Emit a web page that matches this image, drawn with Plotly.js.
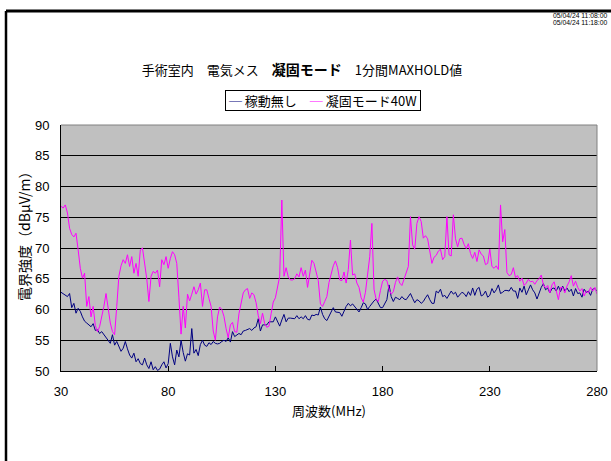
<!DOCTYPE html>
<html>
<head>
<meta charset="utf-8">
<script src="https://cdn.plot.ly/plotly-3.0.1.min.js"></script>
<style>
  html, body { margin: 0; padding: 0; background: #ffffff; }
  #chart { width: 611px; height: 461px; }
</style>
</head>
<body>
<div id="chart"></div>
<script>
// Sweep grid: 30 MHz to 280 MHz, one reading per MHz
const freqStartMHz = 30;
const freqStepMHz = 1;

// Background level, generator idle (dBμV/m)
const idleLevel = [
  62.8, 62.6, 62.3, 62.1, 62.6, 60.3, 61.0, 59.4, 60.2, 59.7,
  58.8, 58.1, 57.8, 57.5, 57.2, 57.7, 56.6, 56.7, 56.1, 56.4,
  55.9, 55.6, 55.0, 54.5, 55.9, 54.2, 54.8, 53.9, 53.2, 53.7,
  54.8, 53.6, 52.6, 52.1, 52.9, 51.5, 52.0, 51.2, 51.0, 52.1,
  51.0, 50.4, 51.5, 50.2, 50.7, 50.1, 50.3, 51.0, 51.5, 50.5,
  51.2, 54.5, 52.3, 51.0, 53.4, 52.3, 55.0, 53.0, 51.6, 52.8,
  52.6, 56.9, 52.9, 53.5, 52.5, 54.3, 55.0, 54.2, 54.0, 54.6,
  54.3, 54.8, 54.5, 54.4, 54.5, 54.8, 55.0, 54.8, 55.4, 54.7,
  56.4, 55.6, 55.9, 56.1, 55.9, 56.5, 56.6, 56.7, 56.9, 56.6,
  57.0, 57.2, 58.5, 56.5, 57.5, 57.5, 57.5, 58.0, 58.0, 58.0,
  58.8, 58.1, 57.3, 58.3, 59.2, 58.0, 58.6, 58.6, 58.5, 58.5,
  59.0, 58.5, 58.8, 58.5, 59.0, 58.4, 58.3, 59.1, 59.0, 59.2,
  59.1, 60.4, 59.2, 58.5, 58.2, 59.0, 59.8, 60.3, 59.6, 59.5,
  59.5, 58.9, 59.8, 60.5, 61.0, 60.6, 60.9, 60.4, 60.1, 59.6,
  60.3, 61.1, 60.9, 60.0, 60.5, 61.0, 61.4, 61.7, 61.1, 60.3,
  60.3, 61.1, 61.6, 64.0, 62.1, 61.3, 62.0, 61.8, 61.6, 62.1,
  61.7, 61.6, 62.1, 62.6, 61.8, 61.1, 61.6, 61.4, 61.0, 61.3,
  61.9, 62.4, 61.6, 61.0, 61.0, 63.0, 62.7, 63.3, 62.1, 62.3,
  61.8, 62.5, 63.0, 62.5, 62.8, 62.0, 62.4, 62.8, 62.6, 62.1,
  62.9, 62.3, 63.5, 62.3, 63.3, 63.6, 62.2, 62.4, 63.0, 62.0,
  62.3, 63.4, 62.7, 63.2, 64.0, 62.6, 62.8, 63.1, 63.1, 63.0,
  63.6, 63.0, 63.0, 61.8, 63.5, 62.8, 63.8, 62.4, 63.2, 64.0,
  63.2, 62.7, 61.7, 62.8, 63.6, 64.2, 63.2, 63.5, 62.7, 63.4,
  63.5, 63.0, 63.8, 62.9, 63.8, 63.0, 63.5, 62.9, 63.3, 62.2,
  63.4, 62.6, 62.7, 62.0, 63.3, 62.8, 63.0, 62.3, 63.3, 63.4,
  63.0
];

// Coagulation mode, 40 W output (dBμV/m)
const coag40W = [
  76.8, 76.5, 77.0, 75.7, 73.2, 72.2, 71.8, 72.4, 69.7, 66.7,
  65.1, 65.9, 60.5, 62.1, 58.8, 60.5, 57.4, 56.4, 57.2, 58.8,
  60.5, 62.6, 59.9, 57.8, 56.4, 55.9, 60.5, 65.4, 67.1, 68.1,
  67.5, 68.9, 67.0, 68.6, 65.9, 67.5, 65.4, 69.7, 70.0, 67.8,
  65.0, 61.3, 65.4, 66.2, 65.9, 66.4, 63.7, 68.1, 67.3, 68.6,
  66.7, 68.3, 69.4, 68.9, 67.5, 62.0, 56.0, 60.5, 57.0, 62.5,
  61.4, 62.5, 63.7, 62.5, 63.2, 64.3, 60.5, 63.2, 63.2, 61.8,
  60.5, 56.5, 55.0, 58.8, 60.4, 60.0, 58.9, 56.9, 55.4, 57.5,
  57.9, 56.4, 56.3, 59.3, 61.1, 62.7, 63.2, 63.4, 61.8, 62.7,
  62.4, 61.1, 59.0, 57.7, 59.4, 57.7, 57.1, 57.3, 59.3, 61.2,
  61.9, 63.9, 65.4, 77.8, 65.4, 66.8, 65.3, 64.8, 64.8, 65.0,
  65.8, 65.3, 66.8, 65.4, 66.4, 63.6, 66.2, 68.0, 67.5, 66.2,
  64.7, 60.9, 60.5, 61.3, 62.1, 64.4, 65.8, 67.1, 67.9, 66.8,
  64.8, 64.7, 66.1, 64.3, 66.5, 71.3, 65.6, 65.8, 64.3, 63.6,
  61.9, 61.2, 62.8, 65.4, 68.6, 74.0, 63.3, 61.6, 61.3, 63.1,
  64.6, 64.9, 64.7, 63.3, 62.5, 62.9, 64.4, 65.3, 64.3, 63.9,
  64.9, 66.0, 67.0, 75.1, 70.5, 69.8, 74.0, 75.1, 74.3, 71.6,
  72.0, 71.5, 69.2, 67.5, 68.5, 68.8, 69.5, 69.8, 68.1, 68.6,
  75.1, 68.9, 68.7, 75.4, 71.5, 70.2, 71.5, 71.6, 70.6, 69.9,
  70.7, 69.1, 68.3, 69.3, 67.8, 69.7, 69.0, 68.7, 67.3, 67.5,
  69.8, 67.0, 66.7, 67.1, 66.5, 77.0, 71.0, 73.0, 66.0, 65.5,
  65.7, 66.8, 65.2, 65.5, 64.6, 65.1, 63.9, 64.3, 64.9, 64.5,
  64.6, 64.1, 64.7, 65.0, 65.6, 64.0, 63.5, 63.9, 62.7, 64.0,
  64.5, 62.9, 61.6, 63.6, 63.6, 62.7, 63.8, 64.5, 65.5, 63.8,
  64.6, 63.6, 63.0, 63.4, 62.2, 63.0, 62.7, 63.6, 63.0, 63.6,
  62.5
];

const seriesNames = ['稼動無し', '凝固モード40W'];
const seriesColors = ['#000080', '#FF00FF'];
const xTickValues = [30, 80, 130, 180, 230, 280];
const xTickLabels = ['30', '80', '130', '180', '230', '280'];
const yTickValues = [50, 55, 60, 65, 70, 75, 80, 85, 90];
const yTickLabels = ['50', '55', '60', '65', '70', '75', '80', '85', '90'];
const timeStamps = ['05/04/24 11:08:00', '05/04/24 11:18:00'];

const latin = 'Liberation Sans, Arial, sans-serif';
const cjk = 'Noto Sans CJK JP, sans-serif';

// plot area in pixels: left 61, right 597, top 125, bottom 371
const plotW = 536, plotH = 246, plotL = 61, plotB = 371;
const px = v => (v - plotL) / plotW;
const py = v => (plotB - v) / plotH;

const traces = [
  {
    type: 'scatter', mode: 'lines', name: seriesNames[0],
    x0: freqStartMHz, dx: freqStepMHz, y: idleLevel,
    line: { color: seriesColors[0], width: 1 }
  },
  {
    type: 'scatter', mode: 'lines', name: seriesNames[1],
    x0: freqStartMHz, dx: freqStepMHz, y: coag40W,
    line: { color: seriesColors[1], width: 1 }
  }
];

// boxed key: a coloured rule in front of each series name
const keyText =
  ' <span style="color:' + seriesColors[0] + '">─</span> ' + seriesNames[0] +
  '　<span style="color:' + seriesColors[1] + '">─</span> ' + seriesNames[1] + ' ';

const layout = {
  width: 611, height: 461,
  margin: { l: 61, r: 14, t: 125, b: 90, pad: 0 },
  paper_bgcolor: '#ffffff',
  plot_bgcolor: '#C0C0C0',
  showlegend: false,
  title: {
    text: '手術室内　電気メス　<b><span style="font-size:14px">凝固モード</span></b>　1分間MAXHOLD値',
    font: { family: cjk, size: 13, color: '#000000' },
    x: 302 / 611, xanchor: 'center', xref: 'container',
    y: 1 - 70 / 461, yanchor: 'middle', yref: 'container'
  },
  xaxis: {
    range: [30, 280],
    tickmode: 'array', tickvals: xTickValues, ticktext: xTickLabels,
    ticks: 'inside', ticklen: 5, tickwidth: 1, tickcolor: '#000000',
    showline: true, linecolor: '#000000', linewidth: 1,
    showgrid: false, zeroline: false,
    tickfont: { family: latin, size: 13, color: '#000000' },
    ticklabelstandoff: 8,
    title: { text: '周波数(MHz)', font: { family: cjk, size: 13, color: '#000000' }, standoff: 9 },
    automargin: false
  },
  yaxis: {
    range: [50, 90],
    tickmode: 'array', tickvals: yTickValues, ticktext: yTickLabels,
    ticks: 'inside', ticklen: 5, tickwidth: 1, tickcolor: '#000000',
    showline: true, linecolor: '#000000', linewidth: 1,
    showgrid: true, gridcolor: '#000000', gridwidth: 1,
    zeroline: false,
    tickfont: { family: latin, size: 13, color: '#000000' },
    ticklabelstandoff: 8,
    automargin: false
  },
  annotations: [
    {
      text: keyText,
      xref: 'paper', x: px(323), xanchor: 'center',
      yref: 'paper', y: py(101), yanchor: 'middle',
      showarrow: false, font: { family: cjk, size: 13, color: '#000000' },
      bgcolor: '#ffffff', bordercolor: '#000000', borderwidth: 1, borderpad: 0
    },
    {
      text: '電界強度（dBμV/m）', textangle: -90,
      xref: 'paper', x: px(24), xanchor: 'center',
      yref: 'paper', y: py(233), yanchor: 'middle',
      showarrow: false, font: { family: cjk, size: 14, color: '#000000' }
    },
    {
      text: timeStamps[0], xref: 'paper', x: px(610), xanchor: 'right',
      yref: 'paper', y: py(15.7), yanchor: 'middle',
      showarrow: false, font: { family: latin, size: 6.8, color: '#000000' }
    },
    {
      text: timeStamps[1], xref: 'paper', x: px(610), xanchor: 'right',
      yref: 'paper', y: py(22.7), yanchor: 'middle',
      showarrow: false, font: { family: latin, size: 6.8, color: '#000000' }
    }
  ],
  shapes: [
    // plot-area frame on the top and right sides
    { type: 'line', xref: 'paper', yref: 'paper', x0: 0, x1: 1, y0: 1, y1: 1,
      line: { color: '#808080', width: 1 }, layer: 'above' },
    { type: 'line', xref: 'paper', yref: 'paper', x0: 1, x1: 1, y0: 0, y1: 1,
      line: { color: '#808080', width: 1 }, layer: 'above' },
    // outer chart border (top and left edges)
    { type: 'line', xref: 'paper', yref: 'paper',
      x0: px(6), x1: px(612), y0: py(11), y1: py(11),
      line: { color: '#000000', width: 3 } },
    { type: 'line', xref: 'paper', yref: 'paper',
      x0: px(6), x1: px(6), y0: py(11), y1: py(462),
      line: { color: '#000000', width: 2.5 } }
  ]
};

Plotly.newPlot('chart', traces, layout, { staticPlot: true, displayModeBar: false });
</script>
</body>
</html>
